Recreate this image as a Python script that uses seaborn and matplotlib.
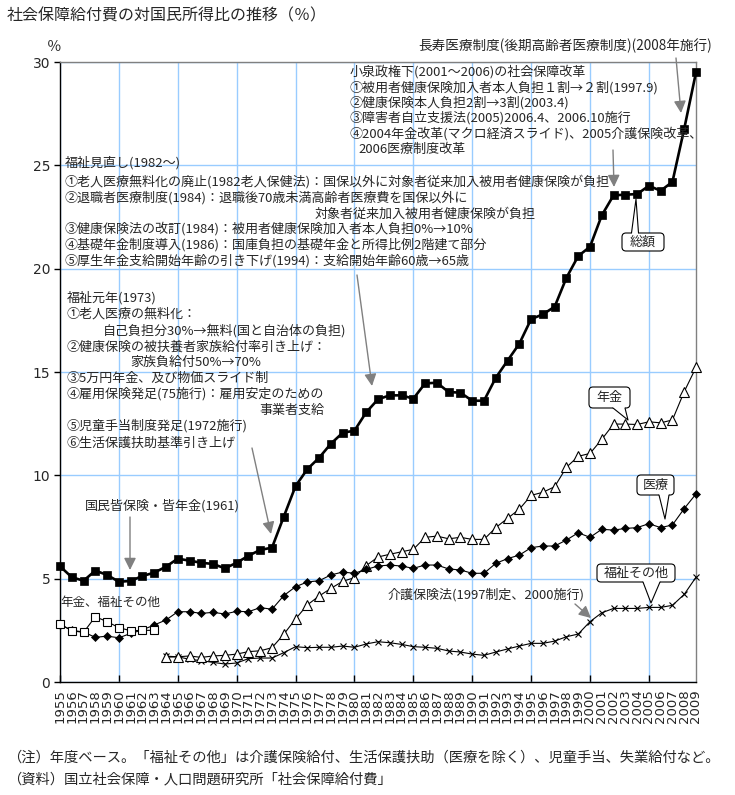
import numpy as np
import pandas as pd
import matplotlib
matplotlib.use("Agg")
import matplotlib.pyplot as plt
import matplotlib.transforms as mtransforms
from matplotlib.patches import FancyArrowPatch, FancyBboxPatch, Polygon
from matplotlib.lines import Line2D
import seaborn as sns

# ---------------- data ----------------
years = [1955, 1956, 1957, 1958, 1959, 1960, 1961, 1962, 1963, 1964,
         1965, 1966, 1967, 1968, 1969, 1970, 1971, 1972, 1973, 1974,
         1975, 1976, 1977, 1978, 1979, 1980, 1981, 1982, 1983, 1984,
         1985, 1986, 1987, 1988, 1989, 1990, 1991, 1992, 1993, 1994,
         1995, 1996, 1997, 1998, 1999, 2000, 2001, 2002, 2003, 2004,
         2005, 2006, 2007, 2008, 2009]

total = [5.6, 5.07, 4.9, 5.39, 5.18, 4.85, 4.89, 5.13, 5.29, 5.58,
         5.97, 5.87, 5.77, 5.71, 5.5, 5.77, 6.11, 6.39, 6.5, 8.0,
         9.48, 10.3, 10.85, 11.53, 12.06, 12.16, 13.05, 13.68, 13.87, 13.87,
         13.71, 14.45, 14.48, 14.03, 14.0, 13.61, 13.61, 14.72, 15.55, 16.37,
         17.56, 17.79, 18.16, 19.56, 20.61, 21.06, 22.58, 23.55, 23.58, 23.61,
         24.01, 23.77, 24.2, 26.77, 29.5]

medical = [2.78, 2.5, 2.42, 2.16, 2.22, 2.14, 2.35, 2.52, 2.76, 3.0,
           3.4, 3.4, 3.32, 3.37, 3.29, 3.42, 3.4, 3.6, 3.52, 4.18,
           4.61, 4.84, 4.9, 5.18, 5.32, 5.26, 5.45, 5.61, 5.66, 5.61,
           5.5, 5.66, 5.66, 5.47, 5.42, 5.26, 5.26, 5.74, 5.97, 6.14,
           6.5, 6.58, 6.58, 6.87, 7.22, 7.0, 7.39, 7.35, 7.43, 7.47,
           7.66, 7.47, 7.6, 8.39, 9.1]

# pension + welfare other combined (1955-1963)
combined_years = years[:9]
pension_welfare = [2.81, 2.48, 2.4, 3.16, 2.92, 2.63, 2.48, 2.5, 2.5]

# split series (1964-2009)
split_years = years[9:]
pension = [1.2, 1.22, 1.26, 1.19, 1.26, 1.29, 1.35, 1.47, 1.51, 1.66,
           2.31, 3.05, 3.73, 4.16, 4.53, 4.87, 5.05, 5.63, 6.05, 6.18,
           6.3, 6.42, 7.0, 7.06, 6.93, 7.0, 6.9, 6.9, 7.47, 7.92,
           8.36, 9.03, 9.18, 9.45, 10.39, 10.92, 11.06, 11.74, 12.48, 12.48,
           12.46, 12.59, 12.54, 12.68, 14.05, 15.22]
welfare_other = [1.25, 1.22, 1.1, 1.03, 0.95, 0.87, 0.92, 1.13, 1.16, 1.16,
                 1.42, 1.71, 1.66, 1.68, 1.68, 1.74, 1.68, 1.84, 1.95, 1.9,
                 1.82, 1.71, 1.68, 1.63, 1.5, 1.45, 1.35, 1.29, 1.45, 1.6,
                 1.74, 1.87, 1.87, 1.98, 2.19, 2.32, 2.92, 3.35, 3.56, 3.56,
                 3.56, 3.61, 3.61, 3.71, 4.24, 5.07]

y_ticks = [0, 5, 10, 15, 20, 25, 30]
x_minor_ticks = [1955, 1960, 1965, 1970, 1975, 1980, 1985, 1990, 1995, 2000, 2005]

# ---------------- style ----------------
sns.set_style("white")
plt.rcParams["font.family"] = ["Noto Sans CJK JP", "DejaVu Sans"]

W, H = 735, 795
fig = plt.figure(figsize=(W / 100, H / 100), dpi=100)
ax = fig.add_axes([60 / W, (H - 682) / H, 636 / W, 620 / H])
pix = mtransforms.Affine2D().scale(1 / W, -1 / H).translate(0, 1) + fig.transFigure

GRID = "#99CCFF"
GRAY = "#808080"
FS = 9.4

# ---------------- series ----------------
df_comb = pd.DataFrame({"year": combined_years, "value": pension_welfare})
df_pen = pd.DataFrame({"year": split_years, "value": pension})
df_wel = pd.DataFrame({"year": split_years, "value": welfare_other})
df_med = pd.DataFrame({"year": years, "value": medical})
df_tot = pd.DataFrame({"year": years, "value": total})

sns.lineplot(data=df_wel, x="year", y="value", ax=ax, color="black", lw=0.8,
             marker="x", markersize=4.5, markeredgecolor="black",
             markeredgewidth=0.8, errorbar=None, clip_on=False, zorder=3)
sns.lineplot(data=df_pen, x="year", y="value", ax=ax, color="black", lw=0.8,
             marker="^", markersize=6.5, markerfacecolor="white",
             markeredgecolor="black", markeredgewidth=0.8, errorbar=None,
             clip_on=False, zorder=3)
sns.lineplot(data=df_med, x="year", y="value", ax=ax, color="black", lw=0.8,
             marker="D", markersize=4.2, markerfacecolor="black",
             markeredgecolor="black", markeredgewidth=0.5, errorbar=None,
             clip_on=False, zorder=4)
sns.lineplot(data=df_comb, x="year", y="value", ax=ax, color="black", lw=0.8,
             marker="s", markersize=5.5, markerfacecolor="white",
             markeredgecolor="black", markeredgewidth=0.8, errorbar=None,
             clip_on=False, zorder=4)
sns.lineplot(data=df_tot, x="year", y="value", ax=ax, color="black", lw=1.9,
             marker="s", markersize=5.2, markerfacecolor="black",
             markeredgecolor="black", markeredgewidth=0.5, errorbar=None,
             clip_on=False, zorder=5)

# ---------------- axes ----------------
ax.set_xlim(1955, 2009)
ax.set_ylim(0, 30)
ax.set_xlabel("")
ax.set_ylabel("")
ax.xaxis.remove_overlapping_locs = False
ax.set_xticks(years)
ax.set_xticklabels([str(y) for y in years], rotation=90, fontsize=9.5,
                   family="DejaVu Sans")
ax.set_xticks(x_minor_ticks, minor=True)
ax.tick_params(axis="x", which="major", length=0, pad=5)
ax.tick_params(axis="x", which="minor", direction="in", length=5, width=1,
               color="black", bottom=True)
ax.set_yticks(y_ticks)
ax.set_yticklabels([str(v) for v in y_ticks], fontsize=10, family="DejaVu Sans")
ax.tick_params(axis="y", direction="out", length=4, width=1, pad=3,
               color="black", left=True)
ax.grid(True, which="minor", axis="x", color=GRID, lw=1)
ax.grid(True, which="major", axis="y", color=GRID, lw=1)
ax.set_axisbelow(True)
for s in ["left", "bottom"]:
    ax.spines[s].set_color("black")
    ax.spines[s].set_linewidth(1)
for s in ["top", "right"]:
    ax.spines[s].set_color(GRAY)
    ax.spines[s].set_linewidth(1)

# ---------------- texts ----------------
fig.text(7, 16, "社会保障給付費の対国民所得比の推移（％）", transform=pix,
         fontsize=11.5, va="center", ha="left")
fig.text(47, 47, "％", transform=pix, fontsize=10.5, va="center", ha="left")

def put(x, y, s, fs=FS):
    fig.text(x, y, s, transform=pix, fontsize=fs, va="center", ha="left")

koizumi = [
    (350, 72, "小泉政権下(2001～2006)の社会保障改革"),
    (350, 88, "①被用者健康保険加入者本人負担１割→２割(1997.9)"),
    (350, 103, "②健康保険本人負担2割→3割(2003.4)"),
    (350, 118, "③障害者自立支援法(2005)2006.4、2006.10施行"),
    (350, 134, "④2004年金改革(マクロ経済スライド)、2005介護保険改革、"),
    (358, 150, "2006医療制度改革"),
]
minaoshi = [
    (65, 163, "福祉見直し(1982～)"),
    (65, 182, "①老人医療無料化の廃止(1982老人保健法)：国保以外に対象者従来加入被用者健康保険が負担"),
    (65, 198, "②退職者医療制度(1984)：退職後70歳未満高齢者医療費を国保以外に"),
    (315, 214, "対象者従来加入被用者健康保険が負担"),
    (65, 229, "③健康保険法の改訂(1984)：被用者健康保険加入者本人負担0%→10%"),
    (65, 245, "④基礎年金制度導入(1986)：国庫負担の基礎年金と所得比例2階建て部分"),
    (65, 261, "⑤厚生年金支給開始年齢の引き下げ(1994)：支給開始年齢60歳→65歳"),
]
gannen = [
    (67, 298, "福祉元年(1973)"),
    (67, 314, "①老人医療の無料化："),
    (103, 331, "自己負担分30%→無料(国と自治体の負担)"),
    (67, 347, "②健康保険の被扶養者家族給付率引き上げ："),
    (130, 362, "家族負給付50%→70%"),
    (67, 378, "③5万円年金、及び物価スライド制"),
    (67, 394, "④雇用保険発足(75施行)：雇用安定のための"),
    (259, 410, "事業者支給"),
    (67, 426, "⑤児童手当制度発足(1972施行)"),
    (67, 443, "⑥生活保護扶助基準引き上げ"),
]
for x, y, s in koizumi + minaoshi + gannen:
    put(x, y, s)

put(418, 46, "長寿医療制度(後期高齢者医療制度)(2008年施行)", fs=9.8)
put(85, 506, "国民皆保険・皆年金(1961)")
put(60, 602, "年金、福祉その他", fs=9.0)
put(388, 595, "介護保険法(1997制定、2000施行)")

fig.text(7, 758, "（注）年度ベース。「福祉その他」は介護保険給付、生活保護扶助（医療を除く）、児童手当、失業給付など。",
         transform=pix, fontsize=10.3, va="center", ha="left")
fig.text(7, 779, "（資料）国立社会保障・人口問題研究所「社会保障給付費」",
         transform=pix, fontsize=10.3, va="center", ha="left")

# ---------------- arrows ----------------
arrows = [
    ((676, 58), (681, 113)),
    ((613, 150), (614, 187)),
    ((357, 275), (372, 386)),
    ((252, 448), (271, 534)),
    ((130, 517), (130, 570)),
    ((575, 604), (591, 618)),
]
for a, b in arrows:
    fig.add_artist(FancyArrowPatch(a, b, transform=pix,
                                   arrowstyle="-|>,head_length=0.6,head_width=0.3",
                                   mutation_scale=12, color=GRAY, lw=1,
                                   shrinkA=0, shrinkB=0, zorder=6))

# ---------------- callouts ----------------
def callout(text, box, base, tip):
    x0, y0, x1, y1 = box
    fig.add_artist(FancyBboxPatch((x0, y0), x1 - x0, y1 - y0,
                                  boxstyle="round,pad=0,rounding_size=4",
                                  transform=pix, fc="white", ec="black",
                                  lw=0.8, zorder=10))
    bx0, bx1, by = base
    inside = by + 1.5 if by == y0 else by - 1.5
    fig.add_artist(Polygon([(bx0, inside), (bx0, by), tip, (bx1, by), (bx1, inside)],
                           closed=True, transform=pix, fc="white", ec="none",
                           zorder=11))
    fig.add_artist(Line2D([bx0, tip[0], bx1], [by, tip[1], by], transform=pix,
                          color="black", lw=0.8, zorder=12))
    fig.text((x0 + x1) / 2, (y0 + y1) / 2, text, transform=pix, ha="center",
             va="center", fontsize=FS, zorder=13)

callout("総額", (622, 233, 664, 251), (631.5, 638.5, 233), (636, 199))
callout("年金", (589, 387, 630, 408), (613, 625, 408), (628, 420))
callout("医療", (637, 475, 674, 495), (659, 669, 495), (665, 519))
callout("福祉その他", (597, 564, 675, 582), (643, 660, 582), (651, 603))

fig.savefig("out.png", dpi=100)
